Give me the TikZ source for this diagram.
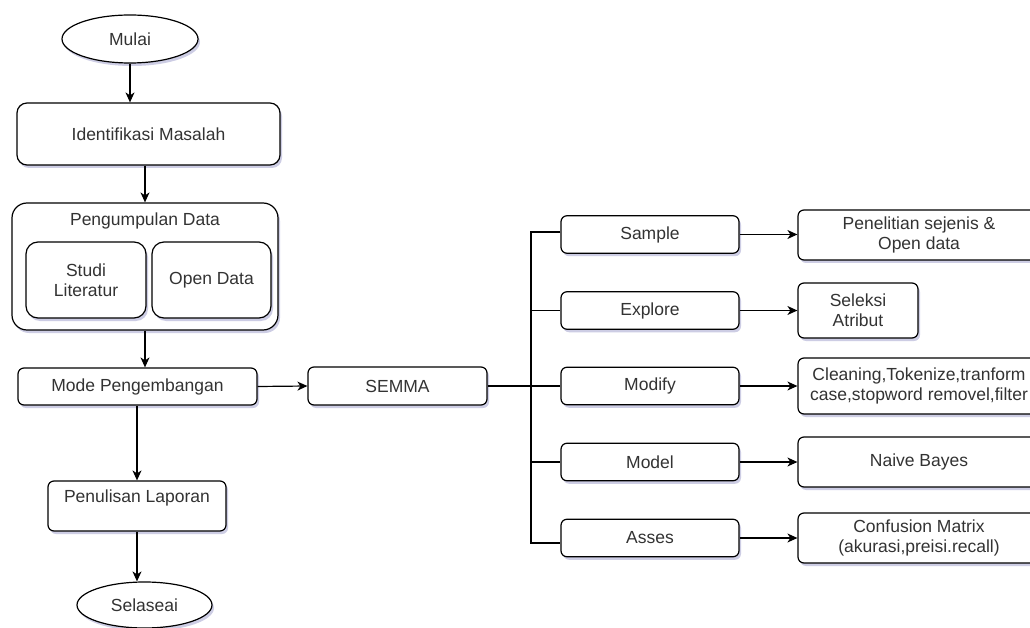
\documentclass[tikz,border=0pt]{standalone}
\usepackage{fontspec}
\setmainfont{Liberation Sans}
\usetikzlibrary{shapes.geometric,arrows.meta,shadows,positioning}

\begin{document}
\begin{tikzpicture}[x=1pt, y=-1pt,
    every node/.style={font=\fontsize{17.5}{20}\selectfont, text=black!80, align=center, inner sep=0pt},
    boxshadow/.style={drop shadow={shadow xshift=2pt, shadow yshift=-3pt, opacity=0.3, fill=blue!30!gray}},
    box/.style={draw, line width=1.2pt, rounded corners=6pt, fill=white, boxshadow},
    term/.style={draw, line width=1.2pt, ellipse, fill=white, boxshadow},
    arr/.style={line width=1.2pt, -{Stealth[length=10pt, width=9pt, inset=3pt]}},
    link/.style={line width=1.2pt}]
  \useasboundingbox (0,0) rectangle (1030,628);

  % main line
  \node[term, minimum width=136, minimum height=48] (mulai) at (130,39) {Mulai};
  \node[box, rounded corners=10pt, minimum width=263, minimum height=62] (ident) at (148.5,134) {Identifikasi Masalah};
  \node[box, rounded corners=15pt, minimum width=266, minimum height=127] (kumpul) at (145,266.5) {};
  \node (kumpultitle) at (145,221) {Pengumpulan Data};
  \node[box, rounded corners=12pt, minimum width=120, minimum height=76] (studi) at (86,280) {Studi\\Literatur};
  \node[box, rounded corners=12pt, minimum width=119, minimum height=76] (opendata) at (211.5,280) {Open Data};
  \node[box, minimum width=239, minimum height=37] (mode) at (137.5,386.5) {Mode Pengembangan};
  \node[box, minimum width=178, minimum height=50] (laporan) at (137,506) {Penulisan Laporan\\~};
  \node[term, minimum width=135, minimum height=46] (selesai) at (144.5,605) {Selaseai};
  \node[box, minimum width=179, minimum height=38] (semma) at (397.5,386) {SEMMA};

  % semma steps
  \foreach \n/\t/\y in {sample/Sample/234.5, explore/Explore/310.5, modify/Modify/386, model/Model/462, asses/Asses/538}
    \node[box, minimum width=178, minimum height=37.5] (\n) at (650,\y) {\t};

  \node[box, minimum width=242, minimum height=50] (sejenis) at (919,235) {Penelitian sejenis \&\\Open data};
  \node[box, minimum width=120, minimum height=55] (seleksi) at (858,310.5) {Seleksi\\Atribut};
  \node[box, minimum width=242, minimum height=56] (cleaning) at (919,386) {Cleaning,Tokenize,tranform\\case,stopword removel,filter};
  \node[box, minimum width=242, minimum height=50] (naive) at (919,462) {Naive Bayes};
  \node[box, minimum width=242, minimum height=50] (confusion) at (919,538) {Confusion Matrix\\(akurasi,preisi.recall)};

  \draw[arr] (mulai.south) -- (mulai.south |- ident.north);
  \draw[arr] (kumpul.north |- ident.south) -- (kumpul.north);
  \draw[arr] (kumpul.south) -- (kumpul.south |- mode.north);
  \draw[arr] (mode.east) -- (semma.west);
  \draw[arr] (laporan.north |- mode.south) -- (laporan.north);
  \draw[arr] (laporan.south) -- (laporan.south |- selesai.north);

  % bus
  \coordinate (bus) at (531,386);
  \draw[link] (semma.east) -- (modify.west);
  \draw[link] ([yshift=2.5pt]sample.west) -| (bus) |- ([yshift=-5pt]asses.west);
  \draw[link] (bus |- explore) -- (explore.west);
  \draw[link] (bus |- model) -- (model.west);

  \foreach \a/\b in {sample/sejenis, explore/seleksi, modify/cleaning, model/naive, asses/confusion}
    \draw[arr] (\a.east) -- (\a.east -| \b.west);
\end{tikzpicture}
\end{document}
